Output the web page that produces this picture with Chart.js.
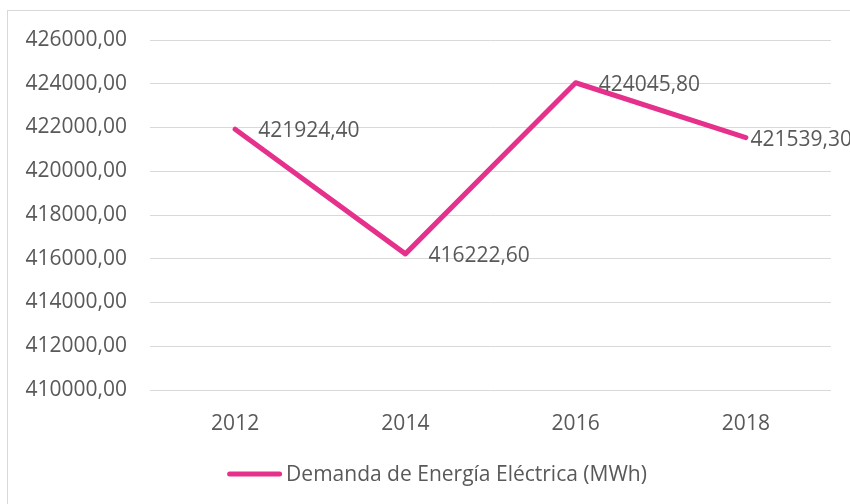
<!DOCTYPE html>
<html>
<head>
<meta charset="utf-8">
<script src="https://cdn.jsdelivr.net/npm/chart.js@4/dist/chart.umd.min.js"></script>
<style>
  html, body { margin: 0; padding: 0; background: #fff; }
  #wrap { width: 850px; height: 504px; }
</style>
</head>
<body>
<div id="wrap"><canvas id="chart" width="850" height="504"></canvas></div>
<script>
// Data
const years = ['2012', '2014', '2016', '2018'];
const demand = [421924.40, 416222.60, 424045.80, 421539.30];
const seriesName = 'Demanda de Energía Eléctrica (MWh)';
const yMin = 410000;
const yMax = 426000;
const yStep = 2000;

const lineColor = '#E5318C';
const textColor = '#595959';
const gridColor = '#D9D9D9';
const fontFamily = '"Open Sans", sans-serif';
const fontSize = 21;

// formats 421924.4 -> "421924,40"
function fmt(v) {
    return v.toFixed(2).replace('.', ',');
}

// outer frame like the spreadsheet chart border
const framePlugin = {
    id: 'frame',
    beforeDraw(chart) {
        const ctx = chart.ctx;
        ctx.save();
        ctx.fillStyle = '#fff';
        ctx.fillRect(0, 0, chart.width, chart.height);
        ctx.strokeStyle = gridColor;
        ctx.lineWidth = 1;
        ctx.strokeRect(7.5, 10.5, 870, 520);
        ctx.restore();
    }
};

// value labels to the right of each point
const valueLabels = {
    id: 'valueLabels',
    afterDatasetsDraw(chart) {
        const ctx = chart.ctx;
        const meta = chart.getDatasetMeta(0);
        ctx.save();
        ctx.font = fontSize + 'px ' + fontFamily;
        ctx.fillStyle = textColor;
        ctx.textAlign = 'left';
        ctx.textBaseline = 'middle';
        meta.data.forEach((pt, i) => {
            const txt = fmt(chart.data.datasets[0].data[i]);
            const w = ctx.measureText(txt).width;
            const x = Math.min(pt.x + 23, chart.width + 2 - w);
            ctx.fillText(txt, x, pt.y + 2);
        });
        ctx.restore();
    }
};

// legend drawn below the axis: short thick line + series name
const bottomLegend = {
    id: 'bottomLegend',
    afterDraw(chart) {
        const ctx = chart.ctx;
        const ds = chart.data.datasets[0];
        ctx.save();
        ctx.font = fontSize + 'px ' + fontFamily;
        const tw = ctx.measureText(ds.label).width;
        const lineLen = 55;
        const gap = 4;
        const total = lineLen + gap + tw;
        const cx = 437;
        const y = 474;
        const x0 = cx - total / 2;
        ctx.strokeStyle = ds.borderColor;
        ctx.lineWidth = 5;
        ctx.lineCap = 'round';
        ctx.beginPath();
        ctx.moveTo(x0 + 2.5, y);
        ctx.lineTo(x0 + lineLen - 2.5, y);
        ctx.stroke();
        ctx.fillStyle = textColor;
        ctx.textAlign = 'left';
        ctx.textBaseline = 'middle';
        ctx.fillText(ds.label, x0 + lineLen + gap, y + 1);
        ctx.restore();
    }
};

new Chart(document.getElementById('chart'), {
    type: 'line',
    data: {
        labels: years,
        datasets: [{
            label: seriesName,
            data: demand,
            borderColor: lineColor,
            backgroundColor: lineColor,
            borderWidth: 5,
            borderCapStyle: 'round',
            borderJoinStyle: 'round',
            pointRadius: 0,
            pointHoverRadius: 0,
            tension: 0,
            fill: false
        }]
    },
    options: {
        responsive: false,
        animation: false,
        devicePixelRatio: 1,
        layout: {
            padding: { left: 0, right: 19, top: 40, bottom: 64 }
        },
        plugins: {
            legend: { display: false },
            tooltip: { enabled: false }
        },
        scales: {
            x: {
                offset: true,
                grid: { display: false },
                border: { display: false },
                ticks: {
                    color: textColor,
                    font: { family: fontFamily, size: fontSize },
                    padding: 13,
                    maxRotation: 0
                },
                afterFit(scale) { scale.height = 50; }
            },
            y: {
                min: yMin,
                max: yMax,
                grid: { color: gridColor, lineWidth: 1, drawTicks: false },
                border: { display: false },
                ticks: {
                    stepSize: yStep,
                    color: textColor,
                    font: { family: fontFamily, size: fontSize },
                    padding: 23,
                    callback: (v) => fmt(v)
                },
                afterFit(scale) { scale.width = 150; }
            }
        }
    },
    plugins: [framePlugin, valueLabels, bottomLegend]
});
</script>
</body>
</html>
